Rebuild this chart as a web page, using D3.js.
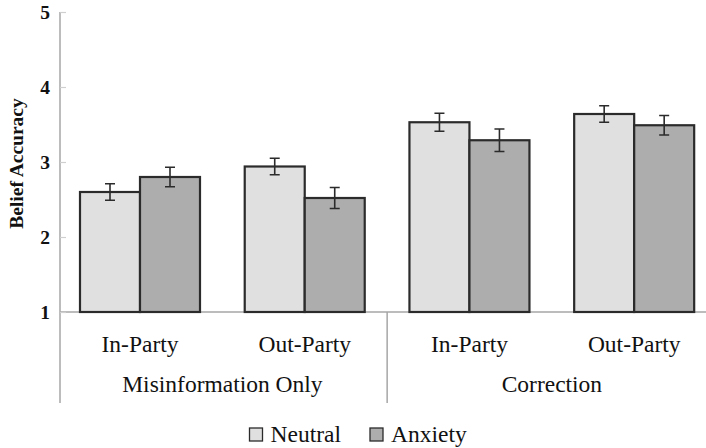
<!DOCTYPE html>
<html><head><meta charset="utf-8">
<script src="https://cdn.jsdelivr.net/npm/d3@7"></script>
<style>body{margin:0;background:#fff}svg{display:block}text{font-family:'Liberation Serif','Times New Roman',Times,serif}</style>
</head><body>
<svg id="c" width="706" height="448"></svg>
<script>
const groups = ["Misinformation Only", "Correction"];
const subgroups = ["In-Party", "Out-Party"];
const conditions = ["Misinformation Only|In-Party","Misinformation Only|Out-Party","Correction|In-Party","Correction|Out-Party"];
const series = ["Neutral", "Anxiety"];
const neutralValues = [2.60, 2.94, 3.53, 3.64];
const anxietyValues = [2.80, 2.52, 3.29, 3.49];
const neutralErr = [0.11, 0.11, 0.12, 0.11];
const anxietyErr = [0.13, 0.14, 0.15, 0.13];
const yTicks = [1, 2, 3, 4, 5];
const colors = ["#e0e0e0", "#adadad"];

const svg = d3.select("#c");
const axisColor = "#a6a6a6";
const y = d3.scaleLinear().domain([1, 5]).range([312, 12]);
const x0 = d3.scaleBand().domain(conditions).range([57.7, 716.6]).paddingInner(0).paddingOuter(0);
const x1 = d3.scaleBand().domain(series).range([22.3, 142.3]);

const data = conditions.map((c, i) => ({c, vals: [
  {s: "Neutral", v: neutralValues[i], e: neutralErr[i]},
  {s: "Anxiety", v: anxietyValues[i], e: anxietyErr[i]}]}));

svg.append("line").attr("x1", 60).attr("x2", 60).attr("y1", y(5)).attr("y2", 403)
  .attr("stroke", axisColor).attr("stroke-width", 1.5);
svg.append("line").attr("x1", 60).attr("x2", 706).attr("y1", y(1)).attr("y2", y(1))
  .attr("stroke", axisColor).attr("stroke-width", 1.5);
svg.append("line").attr("x1", x0(conditions[2])).attr("x2", x0(conditions[2])).attr("y1", y(1)).attr("y2", 403)
  .attr("stroke", axisColor).attr("stroke-width", 1.5);

const yAxis = d3.axisRight(y).tickValues(yTicks).tickSize(6).tickFormat("");
const ya = svg.append("g").attr("transform", "translate(60,0)").call(yAxis);
ya.select(".domain").remove();
ya.selectAll("line").attr("stroke", "#cfcfcf").attr("stroke-width", 1.2);
svg.selectAll(".ylab").data(yTicks).join("text")
  .attr("x", 50).attr("y", d => y(d)).attr("dy", "0.35em").attr("text-anchor", "end")
  .attr("font-weight", "bold").attr("font-size", 19.5)
  .attr("fill", "#111").text(d => d);
svg.append("text").attr("transform", "translate(23,163.5) rotate(-90)")
  .attr("text-anchor", "middle").attr("font-weight", "bold")
  .attr("font-size", 19.5).attr("fill", "#111").text("Belief Accuracy");

const g = svg.selectAll(".grp").data(data).join("g").attr("transform", d => `translate(${x0(d.c)},0)`);
g.selectAll("rect").data(d => d.vals).join("rect")
  .attr("x", d => x1(d.s)).attr("width", x1.bandwidth())
  .attr("y", d => y(d.v)).attr("height", d => y(1) - y(d.v))
  .attr("fill", (d, i) => colors[i]).attr("stroke", "#2b2b2b").attr("stroke-width", 2.2);
g.selectAll(".eb").data(d => d.vals).join("path")
  .attr("d", d => {
    const cx = x1(d.s) + x1.bandwidth() / 2, t = y(d.v + d.e), b = y(d.v - d.e);
    return `M${cx - 5},${t}H${cx + 5}M${cx},${t}V${b}M${cx - 5},${b}H${cx + 5}`;
  }).attr("fill", "none").attr("stroke", "#2b2b2b").attr("stroke-width", 1.6);

svg.selectAll(".sub").data(conditions).join("text")
  .attr("x", d => x0(d) + x0.bandwidth() / 2).attr("y", 352).attr("text-anchor", "middle")
  .attr("font-size", 23.5).attr("fill", "#111")
  .text(d => d.split("|")[1]);
svg.selectAll(".grpl").data(groups).join("text")
  .attr("x", (d, i) => x0(conditions[i * 2]) + x0.bandwidth()).attr("y", 392).attr("text-anchor", "middle")
  .attr("font-size", 23.5).attr("fill", "#111")
  .text(d => d);

const legX = [249.5, 370];
const lg = svg.selectAll(".leg").data(series).join("g").attr("transform", (d, i) => `translate(${legX[i]},428)`);
lg.append("rect").attr("width", 13).attr("height", 13).attr("fill", (d, i) => colors[i])
  .attr("stroke", "#2b2b2b").attr("stroke-width", 1.3);
lg.append("text").attr("x", 21).attr("y", 14)
  .attr("font-size", 23.5).attr("fill", "#111").text(d => d);
</script>
</body></html>
